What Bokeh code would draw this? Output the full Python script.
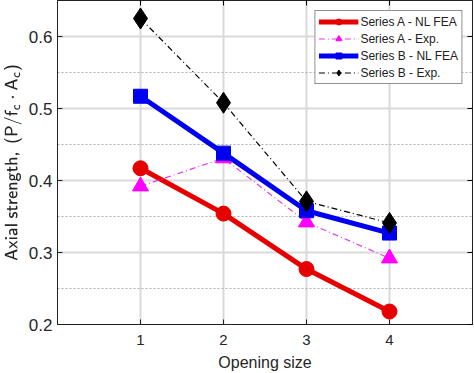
from bokeh.plotting import figure
from bokeh.models import FixedTicker, LinearAxis, Legend, LegendItem
from bokeh.embed import file_html
from bokeh.resources import INLINE

opening = [1, 2, 3, 4]
a_fea = [0.417, 0.354, 0.277, 0.218]
a_exp = [0.392, 0.431, 0.342, 0.292]
b_fea = [0.517, 0.438, 0.358, 0.327]
b_exp = [0.625, 0.508, 0.371, 0.341]
y_ticks = [0.2, 0.3, 0.4, 0.5, 0.6]
y_minor = [0.25, 0.35, 0.45, 0.55]
x_ticks = [1, 2, 3, 4]

FONT = "Liberation Sans"
p = figure(width=474, height=373, x_range=(0, 5), y_range=(0.2, 0.65),
           output_backend="svg", toolbar_location=None,
           min_border_left=2, min_border_right=2, min_border_top=0, min_border_bottom=4)

p.xaxis.ticker = FixedTicker(ticks=x_ticks)
p.yaxis.ticker = FixedTicker(ticks=y_ticks, minor_ticks=y_minor)
for ax in [p.xaxis[0], p.yaxis[0]]:
    ax.major_tick_in = 5
    ax.major_tick_out = 0
    ax.minor_tick_in = 0
    ax.minor_tick_out = 0
    ax.axis_line_color = "#222222"
    ax.major_tick_line_color = "#222222"
    ax.major_label_text_font = FONT
    ax.major_label_text_color = "#262626"
    ax.axis_label_text_font = FONT
    ax.axis_label_text_font_style = "normal"
    ax.axis_label_text_color = "#262626"
    ax.axis_label_text_font_size = "16px"
p.xaxis.major_label_text_font_size = "15px"
p.yaxis.major_label_text_font_size = "17px"
p.yaxis.axis_label_text_font_size = "14px"
p.xaxis.axis_label = "Opening size"
p.yaxis.axis_label = r"$$\mathsf{Axial\ strength,\ (P/f_c\cdot A_c)}$$"
p.xaxis.major_label_standoff = 10
p.xaxis.axis_label_standoff = 6
p.yaxis.major_label_standoff = 5
p.yaxis.axis_label_standoff = 4

top = LinearAxis(ticker=FixedTicker(ticks=x_ticks), major_label_overrides={t: "" for t in x_ticks},
                 major_tick_in=5, major_tick_out=0, minor_tick_out=0, axis_line_color="#222222",
                 major_label_standoff=0)
right = LinearAxis(ticker=FixedTicker(ticks=y_ticks, minor_ticks=y_minor),
                   major_label_overrides={t: "" for t in y_ticks},
                   major_tick_in=5, major_tick_out=0, minor_tick_in=0, minor_tick_out=0,
                   axis_line_color="#222222", major_label_standoff=0)
p.add_layout(top, "above")
p.add_layout(right, "right")

p.xgrid.ticker = FixedTicker(ticks=x_ticks)
p.xgrid.grid_line_color = "#d9d9d9"
p.xgrid.grid_line_width = 2
p.ygrid.grid_line_color = "#d9d9d9"
p.ygrid.grid_line_width = 2
p.ygrid.minor_grid_line_color = "#b0b0b0"
p.ygrid.minor_grid_line_dash = "2 2"
p.ygrid.minor_grid_line_width = 1
p.outline_line_color = "#222222"

r1 = p.line(opening, a_fea, line_color="#e60000", line_width=5)
m1 = p.scatter(opening, a_fea, marker="circle", size=15, fill_color="#e60000", line_color="#e60000")
r2 = p.line(opening, a_exp, line_color="#e040e0", line_width=1.2, line_dash="6 3 1 3")
m2 = p.scatter(opening, a_exp, marker="triangle", size=16, fill_color="#ff00ff", line_color="#ff00ff")
r3 = p.line(opening, b_fea, line_color="#0000f0", line_width=5)
m3 = p.scatter(opening, b_fea, marker="square", size=14, fill_color="#0000f0", line_color="#0000f0")
r4 = p.line(opening, b_exp, line_color="#000000", line_width=1.2, line_dash="6 3 1 3")
m4 = p.scatter(opening, b_exp, marker="diamond", size=21, fill_color="#000000", line_color="#000000")

legend = Legend(items=[
    LegendItem(label="Series A - NL FEA", renderers=[r1, m1]),
    LegendItem(label="Series A - Exp.", renderers=[r2, m2]),
    LegendItem(label="Series B - NL FEA", renderers=[r3, m3]),
    LegendItem(label="Series B - Exp.", renderers=[r4, m4]),
], location="top_right")
legend.label_text_font = FONT
legend.label_text_font_size = "12px"
legend.label_text_color = "#222222"
legend.glyph_width = 40
legend.glyph_height = 15
legend.spacing = 2
legend.padding = 3
legend.margin = 10
legend.label_standoff = 2
legend.border_line_color = "#222222"
legend.border_line_width = 1.5
legend.background_fill_alpha = 1
p.add_layout(legend)

open("out.html", "w").write(file_html(p, INLINE))
